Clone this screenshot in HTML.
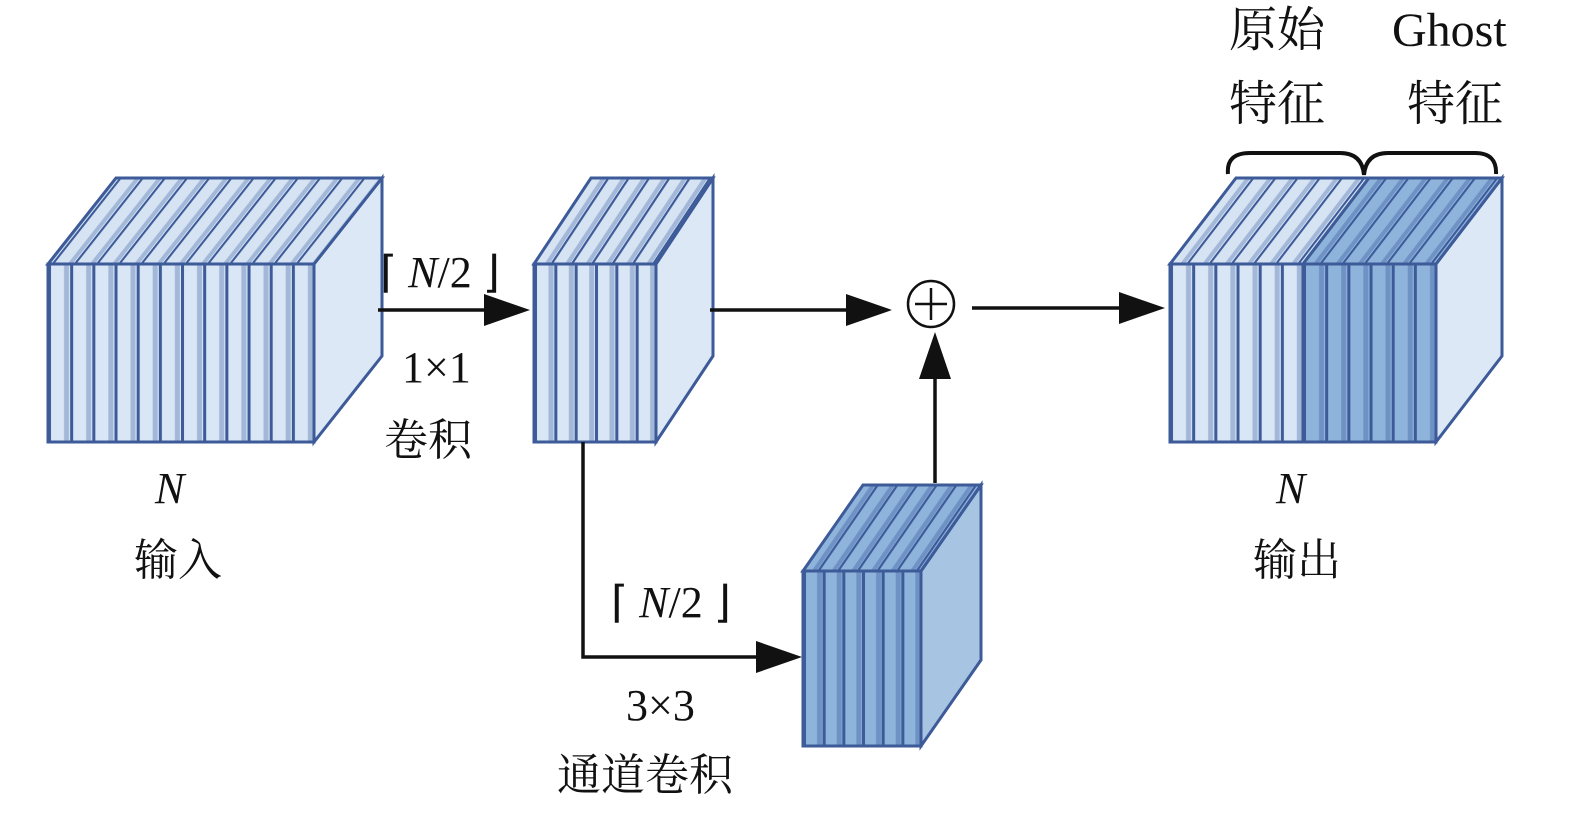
<!DOCTYPE html>
<html><head><meta charset="utf-8"><style>
html,body{margin:0;padding:0;background:#fff;}
svg{display:block;}
text{font-family:"Liberation Serif","Noto Serif CJK SC",serif;fill:#111;}
.cj{font-family:"Noto Serif CJK SC","Liberation Serif",serif;}
</style></head><body>
<svg width="1575" height="813" viewBox="0 0 1575 813" xmlns="http://www.w3.org/2000/svg">
<defs>
 <!-- front patterns -->
 <pattern id="fIn" patternUnits="userSpaceOnUse" x="48" y="0" width="22.17" height="813">
  <rect width="22.17" height="813" fill="#d8e6f5"/><rect x="16" width="5" height="813" fill="#a3b8d8"/><rect x="0" width="3" height="813" fill="#3d5a99"/>
 </pattern>
 <pattern id="fMid" patternUnits="userSpaceOnUse" x="534" y="0" width="20.33" height="813">
  <rect width="20.33" height="813" fill="#d8e6f5"/><rect x="14.5" width="5" height="813" fill="#a3b8d8"/><rect x="0" width="3" height="813" fill="#3d5a99"/>
 </pattern>
 <pattern id="fDk" patternUnits="userSpaceOnUse" x="803" y="0" width="19.67" height="813">
  <rect width="19.67" height="813" fill="#8fb4dc"/><rect x="14" width="5" height="813" fill="#6f92c4"/><rect x="0" width="3" height="813" fill="#3d5a99"/>
 </pattern>
 <pattern id="fOutL" patternUnits="userSpaceOnUse" x="1170" y="0" width="22.17" height="813">
  <rect width="22.17" height="813" fill="#d8e6f5"/><rect x="16" width="5" height="813" fill="#a3b8d8"/><rect x="0" width="3" height="813" fill="#3d5a99"/>
 </pattern>
 <pattern id="fOutD" patternUnits="userSpaceOnUse" x="1170" y="0" width="22.17" height="813">
  <rect width="22.17" height="813" fill="#8fb4dc"/><rect x="16" width="5" height="813" fill="#6f92c4"/><rect x="0" width="3" height="813" fill="#3d5a99"/>
 </pattern>
 <!-- top patterns: X = x0 - t*yf, t=-dx/86 -->
 <pattern id="tIn" patternUnits="userSpaceOnUse" x="-161.3" y="0" width="22.17" height="813" patternTransform="skewX(-38.3)">
  <rect width="22.17" height="813" fill="#d5e3f3"/><rect x="16" width="5" height="813" fill="#a3b8d8"/><rect x="0" width="2.6" height="813" fill="#3d5a99"/>
 </pattern>
 <pattern id="tMid" patternUnits="userSpaceOnUse" x="359" y="0" width="20.33" height="813" patternTransform="skewX(-33.5)">
  <rect width="20.33" height="813" fill="#d5e3f3"/><rect x="14.5" width="5" height="813" fill="#a3b8d8"/><rect x="0" width="2.6" height="813" fill="#3d5a99"/>
 </pattern>
 <pattern id="tDk" patternUnits="userSpaceOnUse" x="404.6" y="0" width="19.67" height="813" patternTransform="skewX(-34.6)">
  <rect width="19.67" height="813" fill="#8fb4dc"/><rect x="14" width="5" height="813" fill="#6f92c4"/><rect x="0" width="2.6" height="813" fill="#3d5a99"/>
 </pattern>
 <pattern id="tOutL" patternUnits="userSpaceOnUse" x="967.4" y="0" width="22.17" height="813" patternTransform="skewX(-37.5)">
  <rect width="22.17" height="813" fill="#d5e3f3"/><rect x="16" width="5" height="813" fill="#a3b8d8"/><rect x="0" width="2.6" height="813" fill="#3d5a99"/>
 </pattern>
 <pattern id="tOutD" patternUnits="userSpaceOnUse" x="967.4" y="0" width="22.17" height="813" patternTransform="skewX(-37.5)">
  <rect width="22.17" height="813" fill="#8fb4dc"/><rect x="16" width="5" height="813" fill="#6f92c4"/><rect x="0" width="2.6" height="813" fill="#3d5a99"/>
 </pattern>
 <marker id="ah" markerWidth="10" markerHeight="8" refX="10" refY="4" orient="auto" markerUnits="userSpaceOnUse" viewBox="0 0 10 8">
 </marker>
</defs>

<g stroke="#3d5a99" stroke-width="3" stroke-linejoin="miter">
 <!-- input cube -->
 <polygon points="314,264 382,178 382,356 314,442" fill="#dce8f5"/>
 <polygon points="48,264 116,178 382,178 314,264" fill="url(#tIn)"/>
 <rect x="48" y="264" width="266" height="178" fill="url(#fIn)"/>
 <!-- middle cube -->
 <polygon points="656,264 713,178 713,356 656,442" fill="#dce8f5"/>
 <polygon points="534,264 591,178 713,178 656,264" fill="url(#tMid)"/>
 <rect x="534" y="264" width="122" height="178" fill="url(#fMid)"/>
 <!-- dark cube -->
 <polygon points="921,571 981,485 981,660 921,746" fill="#a7c4e2"/>
 <polygon points="803,571 863,485 981,485 921,571" fill="url(#tDk)"/>
 <rect x="803" y="571" width="118" height="175" fill="url(#fDk)"/>
 <!-- output cube -->
 <polygon points="1436,264 1502,178 1502,356 1436,442" fill="#dce8f5"/>
 <polygon points="1170,264 1236,178 1369,178 1303,264" fill="url(#tOutL)"/>
 <polygon points="1303,264 1369,178 1502,178 1436,264" fill="url(#tOutD)"/>
 <rect x="1170" y="264" width="133" height="178" fill="url(#fOutL)"/>
 <rect x="1303" y="264" width="133" height="178" fill="url(#fOutD)"/>
 <rect x="1170" y="264" width="266" height="178" fill="none"/>
</g>

<!-- connectors -->
<g stroke="#111" stroke-width="3.5" fill="none">
 <line x1="378" y1="310" x2="490" y2="310"/>
 <line x1="710" y1="310" x2="852" y2="310"/>
 <line x1="972" y1="308" x2="1125" y2="308"/>
 <line x1="935" y1="483" x2="935" y2="375"/>
 <polyline points="583,442 583,657 760,657"/>
 <circle cx="931" cy="304" r="23" stroke-width="2.5"/>
 <line x1="931" y1="288" x2="931" y2="320" stroke-width="2.5"/>
 <line x1="915" y1="304" x2="947" y2="304" stroke-width="2.5"/>
 <path d="M1228,174 Q1226,153 1250,153 L1340,153 Q1362,153 1364,175 Q1366,153 1388,153 L1475,153 Q1497,153 1496,174" stroke-width="4"/>
</g>
<g fill="#111">
 <polygon points="530,310 484,294 484,326"/>
 <polygon points="892,310 846,294 846,326"/>
 <polygon points="1165,308 1119,292 1119,324"/>
 <polygon points="935,332 919,379 951,379"/>
 <polygon points="802,657 756,641 756,673"/>
</g>

<!-- labels -->
<g font-size="44">
 <text x="380" y="287">⌈ <tspan font-style="italic">N</tspan>/2 ⌋</text>
 <text x="402" y="382">1×1</text>
 <text x="384" y="455" class="cj">卷积</text>
 <text x="155" y="503" font-style="italic">N</text>
 <text x="134" y="575" class="cj">输入</text>
 <text x="611" y="617">⌈ <tspan font-style="italic">N</tspan>/2 ⌋</text>
 <text x="626" y="720">3×3</text>
 <text x="557" y="790" class="cj">通道卷积</text>
 <text x="1276" y="503" font-style="italic">N</text>
 <text x="1253" y="575" class="cj">输出</text>
 <text x="1229" y="46" font-size="48" class="cj">原始</text>
 <text x="1392" y="46" font-size="48">Ghost</text>
 <text x="1229" y="120" font-size="48" class="cj">特征</text>
 <text x="1407" y="120" font-size="48" class="cj">特征</text>
</g>
</svg>
</body></html>
